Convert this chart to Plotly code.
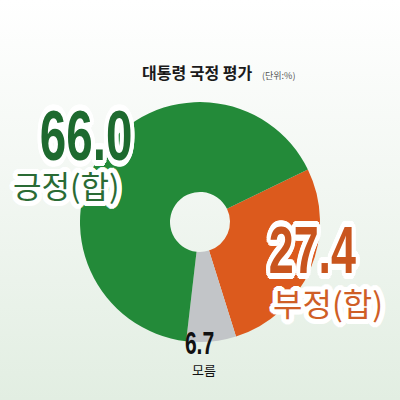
import math
import plotly.graph_objects as go

# ---- data ----
categories = ["부정(합)", "모름", "긍정(합)"]
values = [27.4, 6.7, 66.0]
slice_colors = ["#dc5a1d", "#c2c5c8", "#238a39"]
title_text = "대통령 국정 평가"
unit_text = "(단위:%)"

KR = "Noto Sans CJK KR"
NUM = "Liberation Sans, Arial"

def outline(w=5):
    parts = []
    for r in (w, w * 0.6):
        for k in range(20):
            a = 2 * math.pi * k / 20
            parts.append(f"{r*math.cos(a):.1f}px {r*math.sin(a):.1f}px 0 #ffffff")
    return ", ".join(parts)

fig = go.Figure()

# background gradient (decorative)
fig.add_trace(go.Scatter(
    x=[0, 1, 1, 0, 0], y=[0, 0, 1, 1, 0], mode="lines", fill="toself",
    line=dict(width=0),
    fillgradient=dict(type="vertical",
                      colorscale=[[0, "#e2eee2"], [0.6, "#f4f8f4"], [1, "#ffffff"]]),
    hoverinfo="skip", showlegend=False))

fig.add_trace(go.Pie(
    labels=categories, values=values, sort=False, direction="clockwise",
    rotation=64, hole=0.25, marker=dict(colors=slice_colors, line=dict(width=0)),
    textinfo="none", showlegend=False,
    domain=dict(x=[0.2, 0.8], y=[0.145, 0.745])))

def note(text, px, py, family, size, color, shadow=None):
    f = dict(family=family, size=size, color=color)
    if shadow:
        f["shadow"] = shadow
    return dict(text=text, x=px / 400, y=1 - py / 400, xref="paper", yref="paper",
                xanchor="center", yanchor="middle", showarrow=False, font=f)

ann = [
    note(f"<b>{title_text}</b>", 197, 72, KR, 16, "#1a1a1a"),
    note(unit_text, 278, 75, KR, 9, "#555555"),
    note(f"<b>{values[2]:.1f}</b>", 86, 136, NUM, 70, "#1e6a2f", outline(5)),
    note(categories[2], 66, 184, KR, 31, "#2a6b35", outline(5)),
    note(f"<b>{values[0]:.1f}</b>", 312, 250, NUM, 66, "#c9551e", outline(5)),
    note(categories[0], 328, 302, KR, 32, "#cf5e26", outline(5)),
    note(f"<b>{values[1]:.1f}</b>", 199, 343, NUM, 31, "#111111"),
    note(categories[1], 204, 369, KR, 13, "#111111"),
]

fig.update_layout(
    width=400, height=400, margin=dict(l=0, r=0, t=0, b=0),
    paper_bgcolor="#f4f8f4", plot_bgcolor="rgba(0,0,0,0)",
    xaxis=dict(range=[0, 1], visible=False, fixedrange=True, domain=[0, 1]),
    yaxis=dict(range=[0, 1], visible=False, fixedrange=True, domain=[0, 1]),
    annotations=ann,
)

post = """
document.body.style.margin = '0';
var gd = document.getElementById('{plot_id}');
function squeeze() {
  gd.querySelectorAll('.annotation-text').forEach(function (t) {
    if (/^[0-9.]+$/.test(t.textContent.trim())) {
      t.style.transformBox = 'fill-box';
      t.style.transformOrigin = 'center';
      t.style.transform = 'scaleX(0.68)';
    }
  });
}
squeeze();
gd.on('plotly_afterplot', squeeze);
"""

fig.write_html("out.html", post_script=post, config={"displayModeBar": False})
